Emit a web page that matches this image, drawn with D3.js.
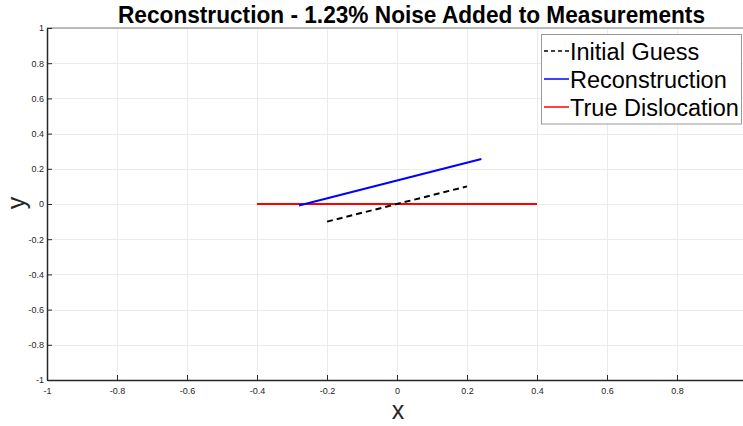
<!DOCTYPE html>
<html>
<head>
<meta charset="utf-8">
<script src="https://cdnjs.cloudflare.com/ajax/libs/d3/7.8.5/d3.min.js"></script>
<style>
  body { margin: 0; background: #fff; }
  svg { display: block; font-family: "Liberation Sans", Arial, sans-serif; }
</style>
</head>
<body>
<div id="chart"></div>
<script>
// data
var tickValues = [-1, -0.8, -0.6, -0.4, -0.2, 0, 0.2, 0.4, 0.6, 0.8, 1];
var xTickLabels = [-1, -0.8, -0.6, -0.4, -0.2, 0, 0.2, 0.4, 0.6, 0.8];
var seriesNames = ["Initial Guess", "Reconstruction", "True Dislocation"];
var guessX = [-0.2, 0.2];
var guessY = [-0.1, 0.1];
var reconX = [-0.28, 0.241];
var reconY = [-0.008, 0.256];
var trueX = [-0.4, 0.4];
var trueY = [0, 0];

var width = 743, height = 426;
var margin = { left: 47, top: 28, right: -4, bottom: 46 };

var svg = d3.select("#chart").append("svg")
	.attr("width", width)
	.attr("height", height);

var x = d3.scaleLinear().domain([-1, 1]).range([margin.left, width - margin.right]);
var y = d3.scaleLinear().domain([-1, 1]).range([height - margin.bottom, margin.top]);

//grid
var grid = svg.append("g").attr("stroke", "#ebebeb").attr("stroke-width", 1);
grid.selectAll(".gx").data(tickValues).enter().append("line")
	.attr("x1", function (d) { return Math.round(x(d)) + 0.5; })
	.attr("x2", function (d) { return Math.round(x(d)) + 0.5; })
	.attr("y1", y(1)).attr("y2", y(-1));
grid.selectAll(".gy").data(tickValues).enter().append("line")
	.attr("y1", function (d) { return Math.round(y(d)) + 0.5; })
	.attr("y2", function (d) { return Math.round(y(d)) + 0.5; })
	.attr("x1", x(-1)).attr("x2", x(1));

//box top
svg.append("line")
	.attr("x1", x(-1)).attr("x2", x(1))
	.attr("y1", y(1)).attr("y2", y(1))
	.attr("stroke", "#a6a6a6").attr("stroke-width", 1.5);

//axes (ticks point inward like matlab)
var fmt = function (d) { return String(d); };
var xAxis = d3.axisBottom(x).tickValues(xTickLabels).tickFormat(fmt).tickSizeInner(-5).tickSizeOuter(0).tickPadding(8);
var yAxis = d3.axisLeft(y).tickValues(tickValues).tickFormat(fmt).tickSizeInner(-5).tickSizeOuter(0).tickPadding(3);

var gx = svg.append("g").attr("transform", "translate(0," + y(-1) + ")").call(xAxis);
var gy = svg.append("g").attr("transform", "translate(" + x(-1) + ",0)").call(yAxis);
[gx, gy].forEach(function (g) {
	g.selectAll("path, line").attr("stroke", "#262626").attr("stroke-width", 1);
	g.selectAll("text").attr("fill", "#262626").attr("font-size", "9px")
		.attr("font-family", "Liberation Sans, Arial, sans-serif");
});
gy.select(".domain").attr("stroke-width", 1.5);
gx.select(".domain").attr("stroke-width", 1.5);

//lines
var line = d3.line().x(function (d) { return x(d[0]); }).y(function (d) { return y(d[1]); });
var series = [
	{ xs: trueX, ys: trueY, color: "#ff0000", dash: null },
	{ xs: reconX, ys: reconY, color: "#0000ff", dash: null },
	{ xs: guessX, ys: guessY, color: "#000000", dash: "6,4" }
];
series.forEach(function (s) {
	svg.append("path")
		.datum(d3.zip(s.xs, s.ys))
		.attr("d", line)
		.attr("fill", "none")
		.attr("stroke", s.color)
		.attr("stroke-width", 2)
		.attr("stroke-dasharray", s.dash);
});

//title and labels
svg.append("text")
	.attr("x", 411.5).attr("y", 23)
	.attr("text-anchor", "middle")
	.attr("font-weight", "bold")
	.attr("font-size", "23px")
	.attr("textLength", 587)
	.attr("lengthAdjust", "spacingAndGlyphs")
	.attr("fill", "#000")
	.text("Reconstruction - 1.23% Noise Added to Measurements");

svg.append("text")
	.attr("x", 398).attr("y", 419)
	.attr("text-anchor", "middle")
	.attr("font-size", "25px")
	.attr("fill", "#262626")
	.text("x");

svg.append("text")
	.attr("transform", "translate(25,203) rotate(-90)")
	.attr("text-anchor", "middle")
	.attr("font-size", "25px")
	.attr("fill", "#262626")
	.text("y");

//legend
var legend = svg.append("g");
legend.append("rect")
	.attr("x", 541.5).attr("y", 34.5)
	.attr("width", 200).attr("height", 89.5)
	.attr("fill", "#fff").attr("stroke", "#999").attr("stroke-width", 1);

var legendRows = [
	{ name: seriesNames[0], color: "#000000", dash: "4,3" },
	{ name: seriesNames[1], color: "#0000ff", dash: null },
	{ name: seriesNames[2], color: "#ff0000", dash: null }
];
legendRows.forEach(function (r, i) {
	var cy = 51 + i * 28;
	legend.append("line")
		.attr("x1", 544).attr("x2", 569)
		.attr("y1", cy).attr("y2", cy)
		.attr("stroke", r.color).attr("stroke-width", 1.5)
		.attr("stroke-dasharray", r.dash);
	legend.append("text")
		.attr("x", 570).attr("y", cy + 8.5)
		.attr("font-size", "23.5px")
		.attr("fill", "#000")
		.text(r.name);
});
</script>
</body>
</html>
